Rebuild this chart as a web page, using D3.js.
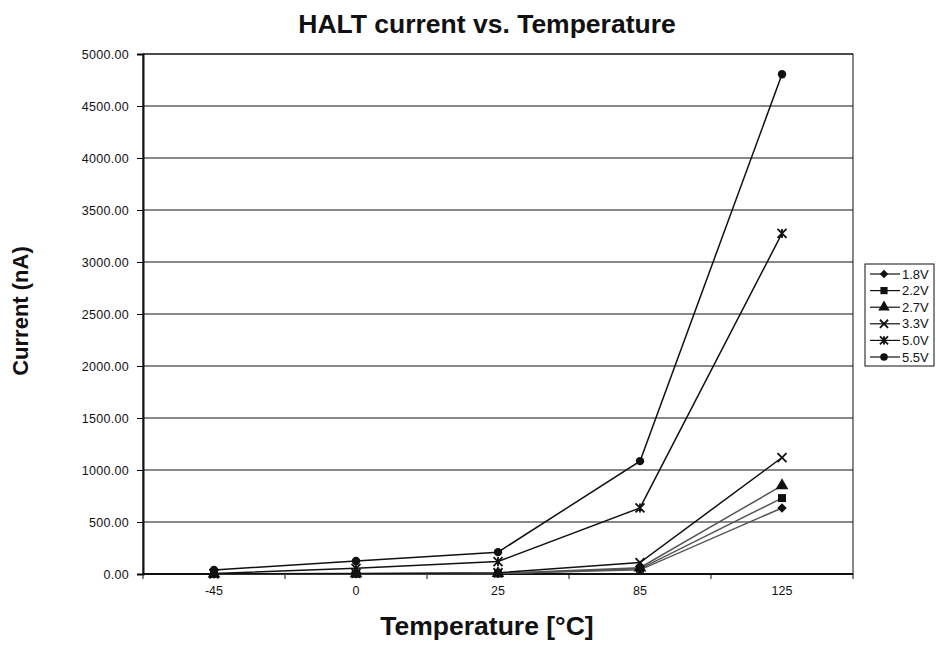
<!DOCTYPE html>
<html>
<head>
<meta charset="utf-8">
<script src="https://cdn.jsdelivr.net/npm/d3@7"></script>
<style>
  body { margin: 0; background: #fff; }
  text { font-family: "Liberation Sans", Arial, sans-serif; fill: #111; }
</style>
</head>
<body>
<div id="chart"></div>
<script>

// categories and series
var temps = ["-45", "0", "25", "85", "125"];
var seriesNames = ["1.8V", "2.2V", "2.7V", "3.3V", "5.0V", "5.5V"];
var v18 = [1, 2, 4, 40, 635];
var v22 = [1, 2, 5, 50, 730];
var v27 = [1, 3, 6, 60, 850];
var v33 = [2, 6, 12, 110, 1120];
var v50 = [5, 55, 120, 635, 3275];
var v55 = [38, 125, 210, 1085, 4805];
var yTicks = [0, 500, 1000, 1500, 2000, 2500, 3000, 3500, 4000, 4500, 5000];

var allSeries = [v18, v22, v27, v33, v50, v55];
var lineColors = ["#555", "#555", "#555", "#111", "#111", "#111"];

// marker drawing, like the Excel markers (diamond, square, triangle, x, star, circle)
function marker(g, s, scale) {
  var r = 4.5 * scale;
  if (s === 0) {
    g.append("path").attr("d", d3.symbol().type(d3.symbolSquare).size(45 * scale * scale))
      .attr("transform", "rotate(45)").attr("fill", "#111");
  } else if (s === 1) {
    g.append("path").attr("d", d3.symbol().type(d3.symbolSquare).size(64 * scale * scale)).attr("fill", "#111");
  } else if (s === 2) {
    g.append("path").attr("d", d3.symbol().type(d3.symbolTriangle).size(70 * scale * scale)).attr("fill", "#111");
  } else if (s === 5) {
    g.append("path").attr("d", d3.symbol().type(d3.symbolCircle).size(55 * scale * scale)).attr("fill", "#111");
  } else {
    var p = "M" + (-r) + "," + (-r) + "L" + r + "," + r + "M" + (-r) + "," + r + "L" + r + "," + (-r);
    if (s === 4) p += "M0," + (-r) + "L0," + r;
    g.append("path").attr("d", p).attr("fill", "none").attr("stroke", "#111").attr("stroke-width", 1.8);
  }
}

// set the dimensions and margins of the graph
var margin = { top: 54, right: 83, bottom: 74, left: 143 },
  width = 936 - margin.left - margin.right,
  height = 648 - margin.top - margin.bottom;

var svgRoot = d3.select("#chart")
  .append("svg")
  .attr("width", 936)
  .attr("height", 648);

var svg = svgRoot.append("g")
  .attr("transform", "translate(" + margin.left + "," + margin.top + ")");

var x = d3.scaleBand()
  .domain(temps)
  .range([0, width]);

var y = d3.scaleLinear()
  .domain([0, 5000])
  .range([height, 0]);

// grid lines
svg.append("g")
  .selectAll("line")
  .data(yTicks)
  .enter()
  .append("line")
  .attr("x1", 0)
  .attr("x2", width)
  .attr("y1", function (d) { return y(d) })
  .attr("y2", function (d) { return y(d) })
  .attr("stroke", "#111")
  .attr("stroke-width", 1);

// plot border
svg.append("rect")
  .attr("width", width)
  .attr("height", height)
  .attr("fill", "none")
  .attr("stroke", "#111")
  .attr("stroke-width", 1);

// Y axis
var yAxis = svg.append("g")
  .call(d3.axisLeft(y).tickValues(yTicks).tickSize(6).tickPadding(8)
    .tickFormat(function (d) { return d3.format(".2f")(d) }));
yAxis.select(".domain").attr("stroke", "#111").attr("stroke-width", 2);
yAxis.selectAll("text").style("font-size", "12.5px").style("letter-spacing", "0.3px");

// X axis: ticks sit between categories
var xAxis = svg.append("g")
  .attr("transform", "translate(0," + height + ")");
xAxis.append("line")
  .attr("x1", 0).attr("x2", width)
  .attr("stroke", "#111").attr("stroke-width", 2);
xAxis.selectAll(".tk")
  .data(d3.range(temps.length + 1))
  .enter()
  .append("line")
  .attr("class", "tk")
  .attr("x1", function (i) { return i * x.step() })
  .attr("x2", function (i) { return i * x.step() })
  .attr("y1", 0).attr("y2", 5)
  .attr("stroke", "#111");
xAxis.selectAll(".lbl")
  .data(temps)
  .enter()
  .append("text")
  .attr("class", "lbl")
  .attr("x", function (d) { return x(d) + x.bandwidth() / 2 })
  .attr("y", 21)
  .attr("text-anchor", "middle")
  .style("font-size", "12.5px")
  .text(function (d) { return d });

// lines and markers
var line = d3.line()
  .x(function (d, i) { return x(temps[i]) + x.bandwidth() / 2 })
  .y(function (d) { return y(d) });

allSeries.forEach(function (vals, s) {
  svg.append("path")
    .datum(vals)
    .attr("fill", "none")
    .attr("stroke", lineColors[s])
    .attr("stroke-width", 1.5)
    .attr("d", line);
});

allSeries.forEach(function (vals, s) {
  vals.forEach(function (d, i) {
    var g = svg.append("g")
      .attr("transform", "translate(" + (x(temps[i]) + x.bandwidth() / 2) + "," + y(d) + ")");
    marker(g, s, 1);
  });
});

// title and axis labels
svgRoot.append("text")
  .attr("x", 487).attr("y", 33)
  .attr("text-anchor", "middle")
  .style("font-size", "26.5px").style("font-weight", "bold")
  .text("HALT current vs. Temperature");

svgRoot.append("text")
  .attr("x", 487).attr("y", 635)
  .attr("text-anchor", "middle")
  .style("font-size", "26.5px").style("font-weight", "bold")
  .text("Temperature [°C]");

svgRoot.append("text")
  .attr("transform", "translate(28,311) rotate(-90)")
  .attr("text-anchor", "middle")
  .style("font-size", "22px").style("font-weight", "bold")
  .text("Current (nA)");

// legend
var legend = svgRoot.append("g")
  .attr("transform", "translate(865,264)");
legend.append("rect")
  .attr("width", 69).attr("height", 102)
  .attr("fill", "#fff").attr("stroke", "#111");
seriesNames.forEach(function (name, s) {
  var ly = 10 + s * 16.6;
  legend.append("line")
    .attr("x1", 5).attr("x2", 35)
    .attr("y1", ly).attr("y2", ly)
    .attr("stroke", "#111").attr("stroke-width", 1.2);
  var g = legend.append("g").attr("transform", "translate(19," + ly + ")");
  marker(g, s, 0.9);
  legend.append("text")
    .attr("x", 37).attr("y", ly + 4.5)
    .style("font-size", "13px")
    .text(name);
});

</script>
</body>
</html>
